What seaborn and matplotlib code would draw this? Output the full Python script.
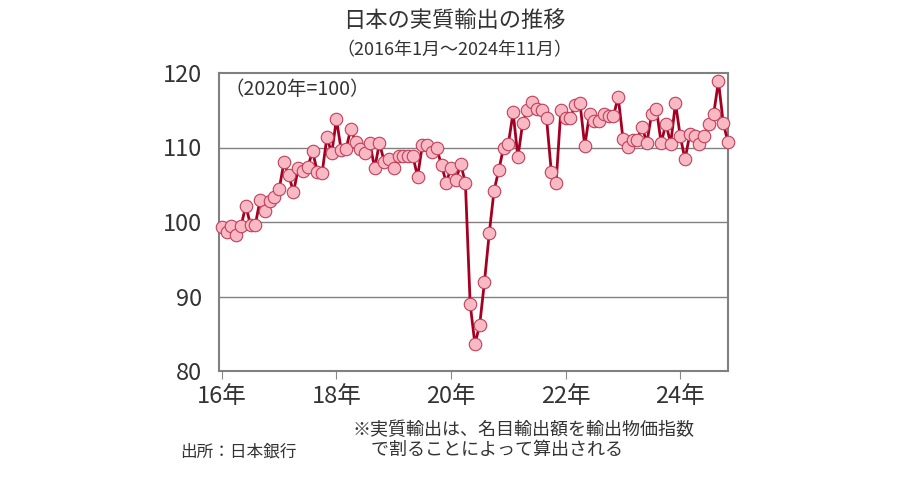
import numpy as np
import pandas as pd
import matplotlib.pyplot as plt
import seaborn as sns

plt.rcParams['font.family'] = 'Noto Sans CJK JP'

# 実質輸出 (2020年=100), 2016年1月～2024年11月
y2016 = [99.3, 98.6, 99.5, 98.2, 99.4, 102.2, 99.6, 99.6, 103.0, 101.5, 102.8, 103.3]
y2017 = [104.4, 108.0, 106.3, 104.0, 107.2, 106.8, 107.4, 109.5, 106.7, 106.6, 111.4, 109.2]
y2018 = [113.8, 109.6, 109.8, 112.5, 110.8, 109.8, 109.3, 110.6, 107.2, 110.6, 108.1, 108.5]
y2019 = [107.3, 108.8, 108.8, 108.8, 108.8, 106.1, 110.4, 110.4, 109.4, 109.9, 107.6, 105.3]
y2020 = [107.3, 105.6, 107.8, 105.3, 89.0, 83.6, 86.2, 92.0, 98.5, 104.2, 107.0, 110.0]
y2021 = [110.5, 114.7, 108.7, 113.3, 115.0, 116.1, 115.2, 115.1, 113.9, 106.7, 105.3, 115.1]
y2022 = [114.0, 114.0, 115.7, 116.0, 110.2, 114.5, 113.5, 113.6, 114.5, 114.2, 114.2, 116.8]
y2023 = [111.2, 110.1, 111.0, 111.0, 112.8, 110.6, 114.5, 115.2, 110.6, 113.2, 110.5, 116.0]
y2024 = [111.5, 108.4, 111.8, 111.6, 110.5, 111.6, 113.1, 114.5, 118.9, 113.3, 110.7]

tick_labels = ['16年', '18年', '20年', '22年', '24年']

values = y2016 + y2017 + y2018 + y2019 + y2020 + y2021 + y2022 + y2023 + y2024
df = pd.DataFrame({'month': np.arange(len(values)), 'value': values})

fig = plt.figure(figsize=(9, 4.8), dpi=100)
ax = fig.add_axes([219 / 900, 109 / 480, 509 / 900, 298 / 480])

sns.lineplot(data=df, x='month', y='value', ax=ax, color='#a50021', linewidth=2,
             marker='o', markersize=9, markerfacecolor='#f8b8c4',
             markeredgecolor='#c0405a', markeredgewidth=0.8, clip_on=False, zorder=3)

ax.set_xlim(-0.6, len(values) - 1)
ax.set_ylim(80, 120)
ax.set_yticks([80, 90, 100, 110, 120])
ax.set_xticks(np.arange(0, 97, 24))
ax.set_xticklabels(tick_labels)
ax.set_xlabel('')
ax.set_ylabel('')
ax.tick_params(axis='both', labelsize=17, colors='#333333', length=0)
ax.tick_params(axis='x', length=6, color='#888888', pad=4)
ax.tick_params(axis='y', pad=12)
for y in [90, 100, 110]:
    ax.axhline(y, color='#808080', linewidth=1, zorder=0)
for s in ax.spines.values():
    s.set_color('#808080')
    s.set_linewidth(1.5)

ax.text(0.01, 0.98, '（2020年=100）', transform=ax.transAxes, ha='left', va='top',
        fontsize=14, color='#333333')
fig.text(0.505, 0.955, '日本の実質輸出の推移', ha='center', va='center', fontsize=16, color='#333333')
fig.text(0.505, 0.895, '（2016年1月～2024年11月）', ha='center', va='center', fontsize=13, color='#333333')
fig.text(0.2, 0.058, '出所：日本銀行', ha='left', va='center', fontsize=12, color='#333333')
fig.text(0.392, 0.083, '※実質輸出は、名目輸出額を輸出物価指数\n　で割ることによって算出される',
         ha='left', va='center', fontsize=13, color='#333333', linespacing=1.1)

fig.savefig('out.png', dpi=100)
